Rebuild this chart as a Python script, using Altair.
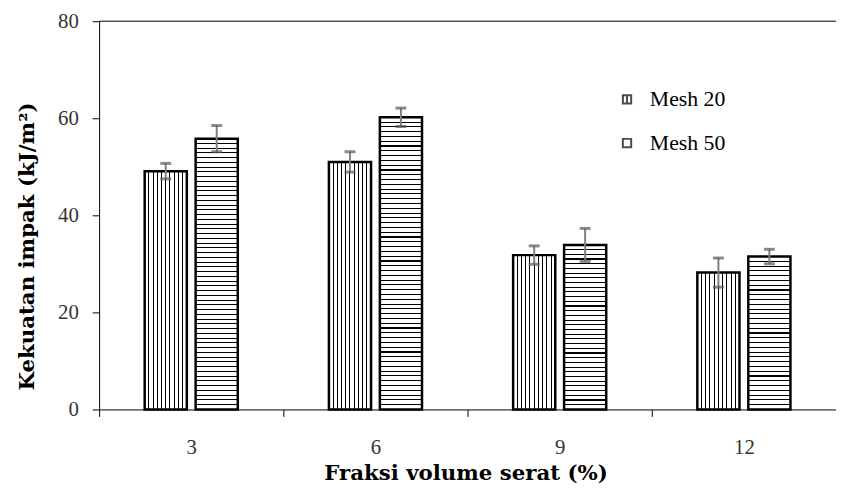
import altair as alt
import pandas as pd

# ---- data ----
categories = ["3", "6", "9", "12"]
series = ["Mesh 20", "Mesh 50"]
mesh20 = [49.1, 51.0, 31.8, 28.2]
mesh50 = [55.8, 60.2, 33.9, 31.5]
err20 = [1.6, 2.1, 1.9, 3.0]
err50 = [2.7, 1.9, 3.4, 1.5]
y_ticks = [0, 20, 40, 60, 80]
y_top = [80]

rows = []
for i, c in enumerate(categories):
    rows.append({"cat": c, "series": series[0], "value": mesh20[i],
                 "lo": mesh20[i] - err20[i], "hi": mesh20[i] + err20[i]})
    rows.append({"cat": c, "series": series[1], "value": mesh50[i],
                 "lo": mesh50[i] - err50[i], "hi": mesh50[i] + err50[i]})
df = pd.DataFrame(rows)
top_df = pd.DataFrame({"top": y_top})

PLOT_H = 392
PLOT_W = 744
Y_MAX = 80

TICK_FONT = "Liberation Serif"
TITLE_FONT = "DejaVu Serif"


def stripes(n, frac, horizontal):
    """Hard-edged striped gradient: n-1 dark lines of relative thickness frac."""
    stops = [alt.GradientStop(color="white", offset=0)]
    for k in range(1, n):
        p = k / n
        a, b = max(p - frac / 2, 0), min(p + frac / 2, 1)
        stops += [
            alt.GradientStop(color="white", offset=a),
            alt.GradientStop(color="black", offset=a),
            alt.GradientStop(color="black", offset=b),
            alt.GradientStop(color="white", offset=b),
        ]
    stops.append(alt.GradientStop(color="white", offset=1))
    if horizontal:
        return alt.LinearGradient(gradient="linear", stops=stops, x1=0, x2=0, y1=0, y2=1)
    return alt.LinearGradient(gradient="linear", stops=stops, x1=0, x2=1, y1=0, y2=0)


x_scale = alt.Scale(domain=categories, paddingInner=0, paddingOuter=0)
x_axis = alt.Axis(
    labelAngle=0, tickBand="extent", tickSize=7, tickColor="black",
    domainColor="black", labelPadding=20, labelFont=TICK_FONT, labelFontSize=21,
    labelColor="#333333", title="Fraksi volume serat (%)", titleFont=TITLE_FONT,
    titleFontSize=21.5, titleFontWeight="bold", titleColor="black",
    titleX=370, titleY=71, titleAlign="center", titleBaseline="alphabetic", grid=False,
)
y_scale = alt.Scale(domain=[0, Y_MAX], nice=False)
y_axis = alt.Axis(
    values=y_ticks, tickSize=7, tickColor="black", domainColor="black",
    labelPadding=14, labelFont=TICK_FONT, labelFontSize=21, labelColor="#333333",
    title="Kekuatan impak (kJ/m²)", titleFont=TITLE_FONT, titleFontSize=21.5,
    titleFontWeight="bold", titleColor="black", titleAngle=270, titleX=-66,
    titleY=227, titleAlign="center", titleBaseline="alphabetic", grid=False,
)
xo_scale = alt.Scale(domain=series, paddingInner=0.173, paddingOuter=0.894)

base = alt.Chart(df).encode(
    x=alt.X("cat:N", sort=categories, scale=x_scale, axis=x_axis),
    xOffset=alt.XOffset("series:N", scale=xo_scale),
)


def Y(field):
    return alt.Y(f"{field}:Q", scale=y_scale, axis=y_axis)


layers = []
# legend carrier: points drawn first, at mid-height, hidden behind the opaque bars
layers.append(
    base.transform_calculate(mid="datum.value / 2")
    .mark_point(size=70, filled=False, color="black", strokeWidth=2)
    .encode(
        y=Y("mid"),
        shape=alt.Shape(
            "series:N",
            scale=alt.Scale(domain=series,
                            range=["M-1,-1H1V1H-1ZM0,-1V1", "M-1,-1H1V1H-1Z"]),
            legend=alt.Legend(
                title=None, orient="none", legendX=522, legendY=68, padding=0,
                symbolSize=70, symbolStrokeColor="black", symbolStrokeWidth=2,
                labelFont=TICK_FONT, labelFontSize=22, labelColor="black",
                labelOffset=12, rowPadding=22,
            ),
        ),
    )
)
# Mesh 20: vertical stripes
layers.append(
    base.transform_filter(alt.datum.series == series[0])
    .mark_bar(fill=stripes(10, 1.0 / 43, False), stroke="black", strokeWidth=2.5)
    .encode(y=Y("value"))
)
# Mesh 50: horizontal stripes, roughly 4.8 px apart
for c, v in zip(categories, mesh50):
    h = v / Y_MAX * PLOT_H
    n = max(int(round(h / 4.8)), 2)
    layers.append(
        base.transform_filter((alt.datum.series == series[1]) & (alt.datum.cat == c))
        .mark_bar(fill=stripes(n, 1.1 / h, True), stroke="black", strokeWidth=2.5)
        .encode(y=Y("value"))
    )
# error bars
layers.append(base.mark_rule(color="#7f7f7f", strokeWidth=2).encode(y=Y("lo"), y2="hi:Q"))
layers.append(base.mark_tick(color="#595959", thickness=3, size=11).encode(y=Y("hi")))
layers.append(base.mark_tick(color="#595959", thickness=3, size=11).encode(y=Y("lo")))
# top border line of the plot area
layers.append(
    alt.Chart(top_df).mark_rule(color="black", strokeWidth=1).encode(y=Y("top"))
)

chart = (
    alt.layer(*layers)
    .properties(
        width=PLOT_W, height=PLOT_H,
        autosize=alt.AutoSizeParams(type="none"),
        padding={"left": 92, "top": 11, "right": 0, "bottom": 78},
    )
    .configure_view(stroke=None)
)

chart.save("out.html", embed_options={"renderer": "svg", "actions": False})
